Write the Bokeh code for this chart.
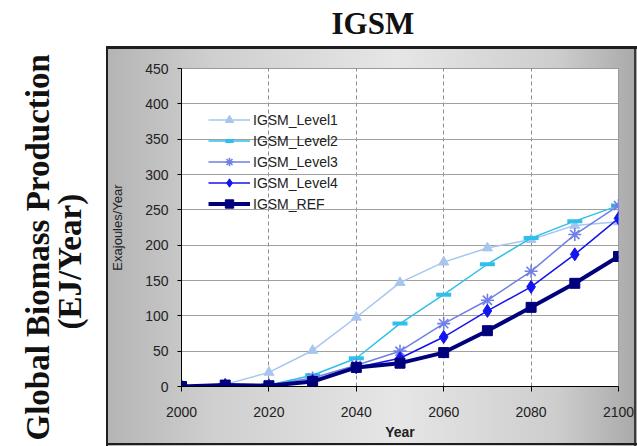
import math
from bokeh.plotting import figure
from bokeh.layouts import column
from bokeh.models import Title, Legend, LegendItem, Range1d
from bokeh.embed import file_html
from bokeh.resources import INLINE

# ---- data ----
years = [2000, 2010, 2020, 2030, 2040, 2050, 2060, 2070, 2080, 2090, 2100]
igsm_level1 = [0, 3, 20, 51, 98, 147, 176, 196, 208, 228, 233]
igsm_level2 = [0, 2, 2, 16, 40, 89, 130, 173, 210, 234, 256]
igsm_level3 = [0, 2, 2, 12, 30, 50, 89, 122, 163, 215, 256]
igsm_level4 = [0, 2, 1, 8, 27, 40, 70, 107, 141, 187, 238]
igsm_ref = [0, 2, 1, 7, 27, 33, 48, 79, 112, 146, 184]
series_names = ["IGSM_Level1", "IGSM_Level2", "IGSM_Level3", "IGSM_Level4", "IGSM_REF"]
x_ticks = [2000, 2020, 2040, 2060, 2080, 2100]
y_ticks = [0, 50, 100, 150, 200, 250, 300, 350, 400, 450]
chart_title = "IGSM"
side_title_1 = "Global Biomass Production"
side_title_2 = "(EJ/Year)"
x_title = "Year"
y_title = "Exajoules/Year"

# ---- title strip (46 px high) ----
pt = figure(width=637, height=46, output_backend="svg", toolbar_location=None,
            x_range=Range1d(0, 1), y_range=Range1d(0, 1),
            x_axis_location=None, y_axis_location=None,
            min_border=0, min_border_left=0, min_border_right=0,
            min_border_top=40, min_border_bottom=0)
pt.outline_line_color = None
pt.xgrid.visible = False
pt.ygrid.visible = False
pt.background_fill_color = "white"
pt.border_fill_color = "white"
pt.title.text = chart_title
pt.title.align = "left"
pt.title.offset = 150
pt.title.standoff = 0
pt.title.text_font = "Liberation Serif"
pt.title.text_font_style = "bold"
pt.title.text_font_size = "31px"
pt.title.text_color = "#111111"

# ---- main chart ----
p = figure(width=637, height=400, output_backend="svg", toolbar_location=None,
           x_range=Range1d(2000, 2100), y_range=Range1d(0, 450),
           min_border_left=181, min_border_right=19, min_border_top=22,
           min_border_bottom=60)
p.border_fill_color = None
p.background_fill_color = "white"
p.outline_line_color = "#9a9a9a"
p.styles = {
    "background": (
        "linear-gradient(#1e1e1e,#1e1e1e) 106px 0px / 531px 3px no-repeat, "
        "linear-gradient(#1e1e1e,#1e1e1e) 106px 0px / 2px 400px no-repeat, "
        "linear-gradient(#1e1e1e,#1e1e1e) 106px 397px / 531px 2px no-repeat, "
        "linear-gradient(#3a3a3a,#3a3a3a) 634px 0px / 2px 400px no-repeat, "
        "linear-gradient(to right, #b4b4b4 0%, #cfcfcf 20%, #e6e6e6 55%, #cdcdcd 85%, #a9a9a9 100%) "
        "106px 0px / 531px 400px no-repeat, #ffffff"
    )
}

# axes
for ax in (p.xaxis, p.yaxis):
    ax.axis_line_color = "black"
    ax.major_tick_line_color = "black"
    ax.major_tick_in = 0
    ax.minor_tick_line_color = None
    ax.major_label_text_font = "Liberation Sans"
    ax.major_label_text_font_size = "14px"
    ax.major_label_text_color = "#222222"
    ax.axis_label_text_font = "Liberation Sans"
    ax.axis_label_text_color = "#222222"

p.xaxis.ticker = x_ticks
p.yaxis.ticker = y_ticks
p.xaxis.major_tick_out = 5
p.yaxis.major_tick_out = 4
p.xaxis.major_label_standoff = 15
p.yaxis.major_label_standoff = 9
p.xaxis.axis_label = x_title
p.xaxis.axis_label_text_font_size = "14px"
p.xaxis.axis_label_text_font_style = "bold"
p.xaxis.axis_label_standoff = 4
p.yaxis.axis_label = y_title
p.yaxis.axis_label_text_font_size = "13px"
p.yaxis.axis_label_text_font_style = "normal"
p.yaxis.axis_label_standoff = 17

p.xgrid.grid_line_color = "#8c8c8c"
p.xgrid.grid_line_dash = "4 3"
p.ygrid.grid_line_color = "#a0a0a0"

styles = [
    dict(color="#a6c6f0", marker="triangle", size=10, lw=1.5, mlw=1),
    dict(color="#30bfe8", marker="dash", size=15, lw=1.5, mlw=4),
    dict(color="#6f7fe6", marker="asterisk", size=13, lw=1.5, mlw=1.6),
    dict(color="#1414ee", marker="diamond", size=13, lw=1.5, mlw=1),
    dict(color="#00007c", marker="square", size=10, lw=4, mlw=1),
]
all_series = [igsm_level1, igsm_level2, igsm_level3, igsm_level4, igsm_ref]

items = []
for name, vals, st in zip(series_names, all_series, styles):
    ln = p.line(years, vals, line_color=st["color"], line_width=st["lw"])
    sc = p.scatter(years, vals, marker=st["marker"], size=st["size"],
                   line_color=st["color"], fill_color=st["color"],
                   line_width=st["mlw"])
    items.append(LegendItem(label=name, renderers=[ln, sc]))

legend = Legend(items=items, location=(27, 172), padding=0, margin=0, spacing=0,
                glyph_width=42, glyph_height=21, label_height=21, label_standoff=3,
                label_text_font="Liberation Sans", label_text_font_size="14px",
                label_text_color="#222222",
                border_line_color=None, background_fill_alpha=0)
p.add_layout(legend)

# side titles
t2 = Title(text=side_title_2, align="left", offset=57, standoff=39,
           text_font="Liberation Serif", text_font_style="bold",
           text_font_size="33px", text_color="#111111")
t1 = Title(text=side_title_1, align="left", offset=-54, standoff=-51,
           text_font="Liberation Serif", text_font_style="bold",
           text_font_size="33px", text_color="#111111")
p.add_layout(t2, "left")
p.add_layout(t1, "left")

layout = column(pt, p, spacing=0)
open("out.html", "w").write(file_html(layout, INLINE))
